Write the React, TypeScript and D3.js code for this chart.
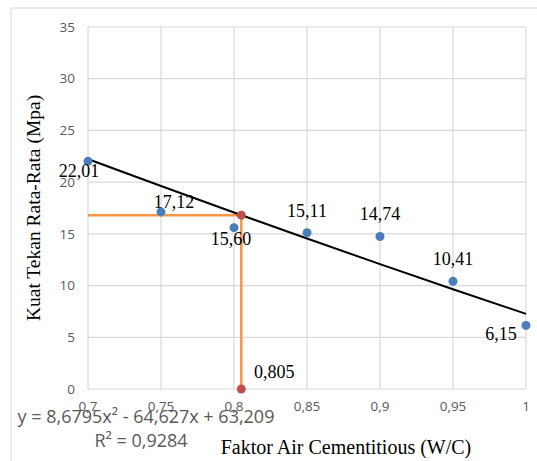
import * as d3 from 'd3';
import React from 'react';

// measured points
const wc = [0.7, 0.75, 0.8, 0.85, 0.9, 0.95, 1];
const strength = [22.01, 17.12, 15.6, 15.11, 14.74, 10.41, 6.15];
const pointLabels = ['22,01', '17,12', '15,60', '15,11', '14,74', '10,41', '6,15'];
// label placement per point: [dx, dy]
const labelOffsets = [[-9, 16], [13, -4], [-3, 17], [0, -16], [0, -17], [0, -16], [-25, 15]];

// poly trend coefficients (a x^2 + b x + c)
const trendCoef = [8.6795, -64.627, 63.209];
const trendX = [0.7, 0.75, 0.8, 0.85, 0.9, 0.95, 1];
const markX = 0.805;
const markLabel = '0,805';

const xTicks = [0.7, 0.75, 0.8, 0.85, 0.9, 0.95, 1];
const xTickLabels = ['0,7', '0,75', '0,8', '0,85', '0,9', '0,95', '1'];
const yTicks = [0, 5, 10, 15, 20, 25, 30, 35];

const eqText = 'y = 8,6795x² - 64,627x + 63,209';
const r2Text = 'R² = 0,9284';

const serif = '"Liberation Serif", "Times New Roman", serif';
const sans = '"Open Sans", "Noto Sans", sans-serif';

export default function App() {
    const margin = { top: 27, left: 88 };
    const width = 438;
    const height = 362;

    const x = d3.scaleLinear().domain([0.7, 1]).range([0, width]);
    const y = d3.scaleLinear().domain([0, 35]).range([height, 0]);

    const poly = (v: number) => trendCoef[0] * v * v + trendCoef[1] * v + trendCoef[2];
    const trendLine = d3.line<number>()
        .x(d => x(d))
        .y(d => y(poly(d)))
        .curve(d3.curveMonotoneX);

    const markY = poly(markX);

    return (
        <svg width={537} height={461} style={{ position: 'absolute', left: 0, top: 0 }}>
            <rect x={0} y={0} width={537} height={461} fill="#fff" />
            <rect x={11} y={8} width={540} height={470} fill="#fff" stroke="#d9d9d9" strokeWidth={1} />
            <g transform={`translate(${margin.left},${margin.top})`}>
                {/* grid */}
                {yTicks.map(t => (
                    <line key={'gy' + t} x1={0} x2={width} y1={y(t)} y2={y(t)} stroke="#d9d9d9" strokeWidth={1.2} />
                ))}
                {xTicks.map(t => (
                    <line key={'gx' + t} x1={x(t)} x2={x(t)} y1={0} y2={height} stroke="#d9d9d9" strokeWidth={1.2} />
                ))}
                {/* tick labels */}
                {yTicks.map(t => (
                    <text key={'ty' + t} x={-13} y={y(t)} dy="0.35em" textAnchor="end"
                        fontFamily={sans} fontSize={13.5} fill="#595959">{t}</text>
                ))}
                {xTicks.map((t, i) => (
                    <text key={'tx' + t} x={x(t)} y={height + 22} textAnchor="middle"
                        fontFamily={sans} fontSize={13.5} fill="#595959">{xTickLabels[i]}</text>
                ))}
                {/* orange guide lines */}
                <path d={`M${x(0.7)},${y(markY)}H${x(markX)}V${y(0)}`} fill="none" stroke="#f79646" strokeWidth={2.5} />
                {/* trend */}
                <path d={trendLine(trendX) || ''} fill="none" stroke="#000" strokeWidth={2} />
                {/* points */}
                {wc.map((v, i) => (
                    <circle key={'p' + i} cx={x(v)} cy={y(strength[i])} r={4.5} fill="#4a7ebb" />
                ))}
                <circle cx={x(markX)} cy={y(markY)} r={4.5} fill="#c0504d" />
                <circle cx={x(markX)} cy={y(0)} r={4.5} fill="#c0504d" />
                {/* labels */}
                {wc.map((v, i) => (
                    <text key={'l' + i} x={x(v) + labelOffsets[i][0]} y={y(strength[i]) + labelOffsets[i][1]}
                        textAnchor="middle" fontFamily={serif} fontSize={18} fill="#000">{pointLabels[i]}</text>
                ))}
                <text x={x(markX) + 33} y={y(0) - 11} textAnchor="middle" fontFamily={serif} fontSize={18} fill="#000">{markLabel}</text>
            </g>
            {/* trend equation */}
            <text x={146} y={423} textAnchor="middle" fontFamily={sans} fontSize={18} fill="#595959">{eqText}</text>
            <text x={141} y={447} textAnchor="middle" fontFamily={sans} fontSize={18} fill="#595959">{r2Text}</text>
            {/* axis titles */}
            <text x={346} y={454} textAnchor="middle" fontFamily={serif} fontSize={20} fill="#000">Faktor Air Cementitious (W/C)</text>
            <text transform="translate(40,208) rotate(-90)" textAnchor="middle" fontFamily={serif} fontSize={19.5} fill="#000">Kuat Tekan Rata-Rata (Mpa)</text>
        </svg>
    );
}
